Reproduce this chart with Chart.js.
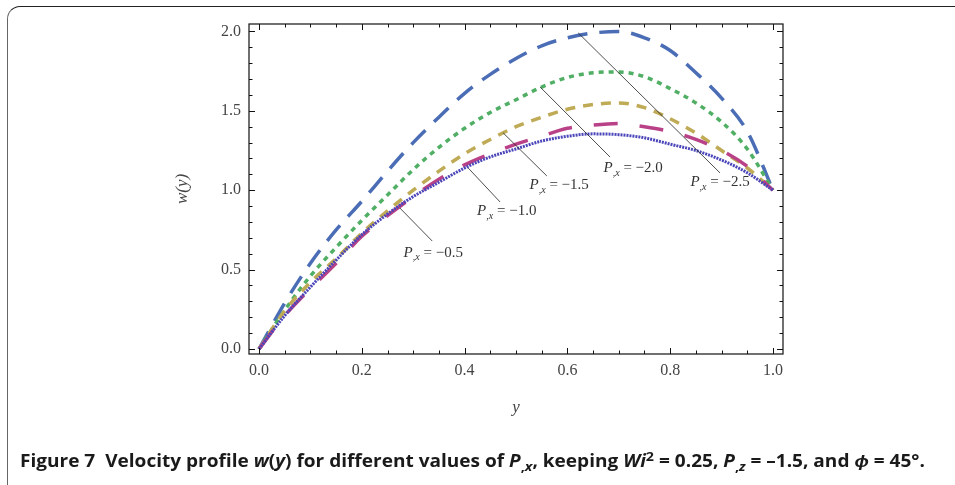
<!DOCTYPE html>
<html>
<head>
<meta charset="utf-8">
<script src="https://cdn.jsdelivr.net/npm/chart.js@4"></script>
<style>
  html, body { margin: 0; padding: 0; background: #fff; width: 955px; height: 485px; overflow: hidden; }
  #wrap { position: relative; width: 955px; height: 485px; }
  #box { position: absolute; left: 7px; top: 6px; width: 1000px; height: 1000px;
         border-top: 1.5px solid #222; border-left: 1.5px solid #666; border-top-left-radius: 13px; }
  #chart { position: absolute; left: 0; top: 0; }
  #caption { position: absolute; left: 20px; top: 449px; font-family: "Open Sans", sans-serif; font-weight: 700;
             font-size: 17px; white-space: nowrap; transform-origin: 0 0; color: #1a1a1a; }
  #caption .sb { font-size: 75%; position: relative; top: 0.3em; line-height: 0; }
  #caption .sp { font-size: 75%; position: relative; top: -0.45em; line-height: 0; }
</style>
</head>
<body>
<div id="wrap">
  <div id="box"></div>
  <canvas id="chart" width="955" height="485"></canvas>
  <div id="caption">Figure 7&nbsp;&nbsp;Velocity profile <i>w</i>(<i>y</i>) for different values of <i>P</i><span class="sb">,<i>x</i></span>, keeping <i>Wi</i><span class="sp">2</span> = 0.25, <i>P</i><span class="sb">,<i>z</i></span> = –1.5, and <i>ϕ</i> = 45°.</div>
</div>
<script>
// y positions across the channel
const yPoints = [0, 0.05, 0.1, 0.15, 0.2, 0.25, 0.3, 0.35, 0.4, 0.45, 0.5, 0.55, 0.6, 0.65, 0.7, 0.75, 0.8, 0.85, 0.9, 0.95, 1.0];

// w(y) for each P,x
const wPx05 = [0, 0.21, 0.39, 0.56, 0.72, 0.85, 0.96, 1.05, 1.14, 1.21, 1.26, 1.31, 1.34, 1.355, 1.35, 1.33, 1.29, 1.25, 1.19, 1.11, 1.0];
const wPx10 = [0, 0.21, 0.38, 0.54, 0.71, 0.84, 0.96, 1.07, 1.16, 1.23, 1.29, 1.34, 1.39, 1.41, 1.42, 1.40, 1.37, 1.32, 1.25, 1.15, 1.0];
const wPx15 = [0, 0.24, 0.42, 0.57, 0.73, 0.87, 1.00, 1.12, 1.23, 1.32, 1.40, 1.46, 1.51, 1.54, 1.55, 1.52, 1.45, 1.36, 1.25, 1.14, 1.0];
const wPx20 = [0, 0.245, 0.46, 0.64, 0.81, 0.97, 1.13, 1.27, 1.39, 1.49, 1.57, 1.65, 1.71, 1.74, 1.745, 1.715, 1.64, 1.55, 1.43, 1.26, 1.0];
const wPx25 = [0, 0.29, 0.54, 0.75, 0.93, 1.12, 1.30, 1.46, 1.61, 1.73, 1.83, 1.91, 1.96, 1.99, 2.0, 1.96, 1.88, 1.74, 1.58, 1.37, 1.0];

const pxLabels = ['−0.5', '−1.0', '−1.5', '−2.0', '−2.5'];
const xTicks = [0, 0.2, 0.4, 0.6, 0.8, 1.0];
const yTicks = [0, 0.5, 1.0, 1.5, 2.0];

const toPts = arr => arr.map((w, i) => ({ x: yPoints[i], y: w }));

// callout lines: curve point -> label, in data units
const callouts = [
    { label: pxLabels[0], from: [0.274, 0.888], to: [0.337, 0.680], at: [0.339, 0.607] },
    { label: pxLabels[1], from: [0.407, 1.140], to: [0.469, 0.926], at: [0.482, 0.866] },
    { label: pxLabels[2], from: [0.475, 1.361], to: [0.560, 1.090], at: [0.584, 1.030] },
    { label: pxLabels[3], from: [0.547, 1.650], to: [0.683, 1.209], at: [0.728, 1.137] },
    { label: pxLabels[4], from: [0.621, 1.991], to: [0.897, 1.109], at: [0.897, 1.049] }
];

const frameTicks = {
    id: 'frameTicks',
    afterDatasetsDraw(chart) {
        const { ctx, chartArea: a, scales: { x, y } } = chart;
        ctx.save();
        ctx.strokeStyle = '#111';
        ctx.lineWidth = 1.2;
        ctx.strokeRect(a.left, a.top, a.right - a.left, a.bottom - a.top);
        ctx.lineWidth = 1;
        ctx.beginPath();
        for (let i = 0; i <= 20; i++) {
            const px = Math.round(x.getPixelForValue(i * 0.05)) + 0.5;
            const len = i % 4 === 0 ? 6 : 3.5;
            ctx.moveTo(px, a.bottom); ctx.lineTo(px, a.bottom - len);
            ctx.moveTo(px, a.top); ctx.lineTo(px, a.top + len);
        }
        for (let i = 0; i <= 20; i++) {
            const py = Math.round(y.getPixelForValue(i * 0.1)) + 0.5;
            const len = i % 5 === 0 ? 6 : 3.5;
            ctx.moveTo(a.left, py); ctx.lineTo(a.left + len, py);
            ctx.moveTo(a.right, py); ctx.lineTo(a.right - len, py);
        }
        ctx.stroke();

        // callouts
        ctx.strokeStyle = '#222';
        ctx.lineWidth = 0.8;
        callouts.forEach(c => {
            ctx.beginPath();
            ctx.moveTo(x.getPixelForValue(c.from[0]), y.getPixelForValue(c.from[1]));
            ctx.lineTo(x.getPixelForValue(c.to[0]), y.getPixelForValue(c.to[1]));
            ctx.stroke();

            const fP = 'italic 15px "Liberation Serif"';
            const fS = 'italic 10px "Liberation Serif"';
            const fR = '15px "Liberation Serif"';
            const rest = ' = ' + c.label;
            ctx.font = fP; const wP = ctx.measureText('P').width;
            ctx.font = fS; const wS = ctx.measureText(',x').width;
            ctx.font = fR; const wR = ctx.measureText(rest).width;
            let cx = x.getPixelForValue(c.at[0]) - (wP + wS + wR) / 2;
            const cy = y.getPixelForValue(c.at[1]);
            ctx.fillStyle = '#333';
            ctx.textBaseline = 'middle';
            ctx.textAlign = 'left';
            ctx.font = fP; ctx.fillText('P', cx, cy); cx += wP;
            ctx.font = fS; ctx.fillText(',x', cx, cy + 5); cx += wS;
            ctx.font = fR; ctx.fillText(rest, cx, cy);
        });

        // axis titles
        ctx.fillStyle = '#444';
        ctx.font = 'italic 17px "Liberation Serif"';
        ctx.textAlign = 'center';
        ctx.fillText('y', (a.left + a.right) / 2, 408);
        ctx.translate(183, (a.top + a.bottom) / 2);
        ctx.rotate(-Math.PI / 2);
        ctx.fillText('w(y)', 0, 0);
        ctx.restore();
    }
};

const lineSet = (label, data, color, dash, width) => ({
    label: 'P,x = ' + label,
    data: toPts(data),
    borderColor: color,
    borderWidth: width,
    borderDash: dash,
    borderCapStyle: 'butt',
    pointRadius: 0,
    cubicInterpolationMode: 'monotone',
    fill: false
});

new Chart(document.getElementById('chart'), {
    type: 'line',
    data: {
        datasets: [
            lineSet(pxLabels[0], wPx05, '#4b46b9', [2, 1], 3),
            lineSet(pxLabels[1], wPx10, '#b94187', [24, 22], 3.5),
            lineSet(pxLabels[2], wPx15, '#bfaa55', [10, 8], 3.5),
            lineSet(pxLabels[3], wPx20, '#50af64', [5, 5], 3.5),
            lineSet(pxLabels[4], wPx25, '#4a6db5', [20, 12], 3.5)
        ]
    },
    options: {
        responsive: false,
        animation: false,
        layout: { padding: { left: 0, top: 24, right: 172, bottom: 101 } },
        plugins: { legend: { display: false }, tooltip: { enabled: false } },
        scales: {
            x: {
                type: 'linear', min: -0.0195, max: 1.0195,
                grid: { display: false, drawTicks: false }, border: { display: false },
                afterBuildTicks: s => { s.ticks = xTicks.map(v => ({ value: v })); },
                afterFit: s => { s.height = 30; },
                ticks: { padding: 7, color: '#444', maxRotation: 0, autoSkip: false,
                         font: { family: 'Liberation Serif', size: 16 }, callback: v => v.toFixed(1) }
            },
            y: {
                type: 'linear', min: -0.0315, max: 2.047,
                grid: { display: false, drawTicks: false }, border: { display: false },
                afterBuildTicks: s => { s.ticks = yTicks.map(v => ({ value: v })); },
                afterFit: s => { s.width = 249; },
                ticks: { padding: 8, color: '#444', autoSkip: false,
                         font: { family: 'Liberation Serif', size: 16 }, callback: v => v.toFixed(1) }
            }
        }
    },
    plugins: [frameTicks]
});

// squeeze caption to the figure width
const cap = document.getElementById('caption');
const fitCaption = () => { cap.style.transform = 'scaleX(' + (905 / cap.scrollWidth) + ')'; };
if (document.fonts && document.fonts.ready) document.fonts.ready.then(fitCaption);
fitCaption();
</script>
</body>
</html>
